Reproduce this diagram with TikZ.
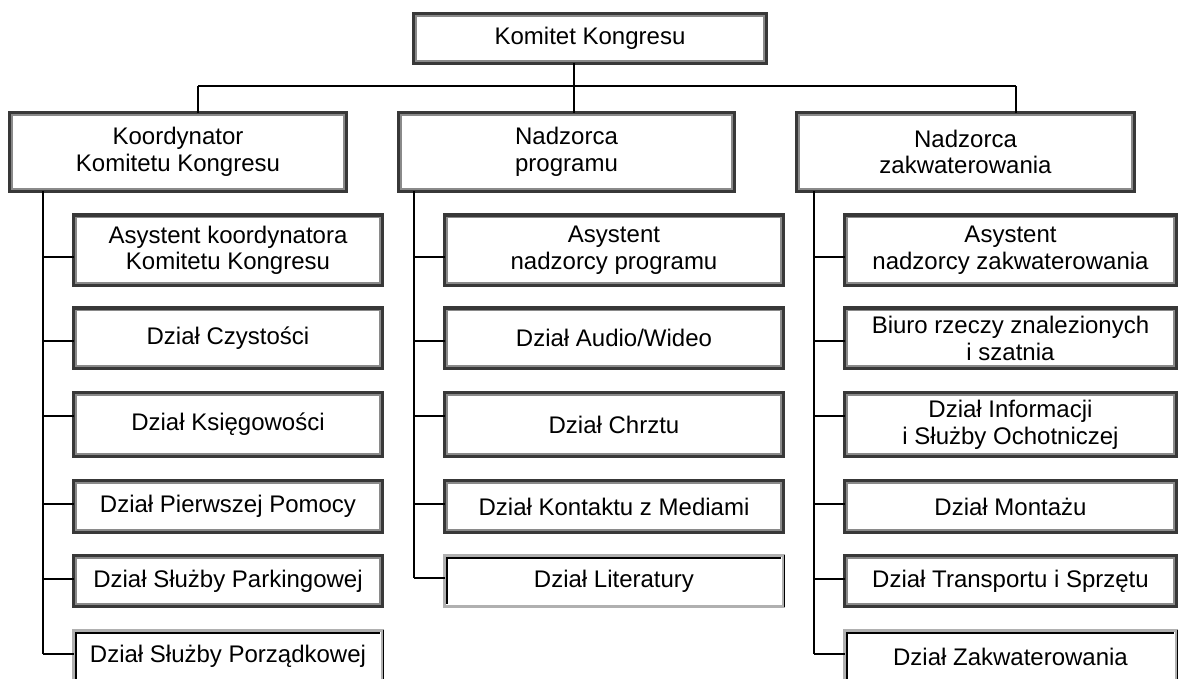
\documentclass[tikz,border=0pt]{standalone}
\usepackage{fontspec}
\setmainfont{Liberation Sans}
\definecolor{frameDark}{HTML}{383838}
\definecolor{frameMid}{HTML}{8A8A8A}
\definecolor{frameLight}{HTML}{B0B0B0}
\begin{document}
\begin{tikzpicture}[x=0.75pt,y=-0.75pt,
  every node/.style={font=\fontsize{18pt}{20pt}\selectfont, align=center, inner sep=0pt, outer sep=0pt},
  raised/.style={draw=frameDark, line width=2.6pt, fill=white},
  sunken/.style={draw=frameLight, line width=2.6pt, fill=white},
  innerline/.style={draw=frameMid, line width=1.1pt},
  sunkline/.style={draw=black, line width=1.3pt},
  link/.style={draw=black, line width=1.5pt},
  colL/.style={minimum width=231.5pt},
  colM/.style={minimum width=254pt},
  colR/.style={minimum width=248.75pt},
  rowA/.style={minimum height=52.6pt},
  rowB/.style={minimum height=45.1pt},
  rowC/.style={minimum height=47.7pt},
  rowD/.style={minimum height=38.7pt},
  rowE/.style={minimum height=38pt},
  rowF/.style={minimum height=38.7pt},
  head/.style={minimum width=252.5pt, minimum height=59pt}
]
\useasboundingbox (0,0) rectangle (1180,678);
\clip (0,0) rectangle (1180,678);

% connector coordinates
\coordinate (hub) at (574,86);
\coordinate (hl) at (198,86);
\coordinate (hr) at (1016,86);
\foreach \i/\y in {1/257,2/341,3/416,4/504,5/579,6/654}{
  \coordinate (la\i) at (43,\y);
  \coordinate (rc\i) at (814,\y);
}
\foreach \i/\y in {1/257,2/341,3/416,4/504,5/578}{
  \coordinate (mb\i) at (414,\y);
}

% nodes
\node[raised, minimum width=264.5pt, minimum height=37.25pt] (top) at (590,38.5) {Komitet Kongresu};
\node[raised, head] (A) at (178,152) {Koordynator\\Komitetu Kongresu};
\node[raised, head, minimum width=251.75pt] (B) at (566.5,152) {Nadzorca\\programu};
\node[raised, head, minimum width=253.25pt] (C) at (965.5,152) {Nadzorca\\zakwaterowania};

\node[raised, colL, rowA] (a1) at (228,250.25) {Asystent koordynatora\\Komitetu Kongresu};
\node[raised, colL, rowB] (a2) at (228,338.25) {Dział Czystości};
\node[raised, colL, rowC] (a3) at (228,424.5) {Dział Księgowości};
\node[raised, colL, rowD] (a4) at (228,506.5) {Dział Pierwszej Pomocy};
\node[raised, colL, rowE] (a5) at (228,581) {Dział Służby Parkingowej};
\node[sunken, colL, rowF] (a6) at (228,656.5) {Dział Służby Porządkowej};

\node[raised, colM, rowA] (b1) at (614,250.25) {Asystent\\nadzorcy programu};
\node[raised, colM, rowB] (b2) at (614,338.25) {Dział Audio/Wideo};
\node[raised, colM, rowC] (b3) at (614,424.5) {Dział Chrztu};
\node[raised, colM, rowD] (b4) at (614,506.5) {Dział Kontaktu z Mediami};
\node[sunken, colM, rowE] (b5) at (614,581) {Dział Literatury};

\node[raised, colR, rowA] (c1) at (1010.5,250.25) {Asystent\\nadzorcy zakwaterowania};
\node[raised, colR, rowB] (c2) at (1010.5,338.25) {Biuro rzeczy znalezionych\\i szatnia};
\node[raised, colR, rowC] (c3) at (1010.5,424.5) {Dział Informacji\\i Służby Ochotniczej};
\node[raised, colR, rowD] (c4) at (1010.5,506.5) {Dział Montażu};
\node[raised, colR, rowE] (c5) at (1010.5,581) {Dział Transportu i Sprzętu};
\node[sunken, colR, rowF] (c6) at (1010.5,656.5) {Dział Zakwaterowania};

% inner bevel lines
\foreach \n in {top,A,B,C,a1,a2,a3,a4,a5,b1,b2,b3,b4,c1,c2,c3,c4,c5}{
  \draw[innerline] ([shift={(1.8pt,-1.8pt)}]\n.north west) rectangle ([shift={(-1.8pt,1.8pt)}]\n.south east);
}
\foreach \n in {a6,b5,c6}{
  \draw[sunkline] ([shift={(1.9pt,1.9pt)}]\n.south west) -- ([shift={(1.9pt,-1.9pt)}]\n.north west) -- ([shift={(-1.9pt,-1.9pt)}]\n.north east);
  \draw[sunkline] ([shift={(0.8pt,0.8pt)}]\n.north east) -- ([shift={(0.8pt,-0.8pt)}]\n.south east);
}

% connectors
\draw[link] (top.south -| hub) -- (hub);
\draw[link] (hl) -- (hr);
\draw[link] (hl) -- (hl |- A.north);
\draw[link] (hub) -- (hub |- B.north);
\draw[link] (hr) -- (hr |- C.north);

\draw[link] (A.south -| la1) -- (la6);
\draw[link] (B.south -| mb1) -- (mb5);
\draw[link] (C.south -| rc1) -- (rc6);
\foreach \i in {1,...,6}{
  \draw[link] (la\i) -- (la\i -| a\i.west);
  \draw[link] (rc\i) -- (rc\i -| c\i.west);
}
\foreach \i in {1,...,5}{
  \draw[link] (mb\i) -- (mb\i -| b\i.west);
}
\end{tikzpicture}
\end{document}
